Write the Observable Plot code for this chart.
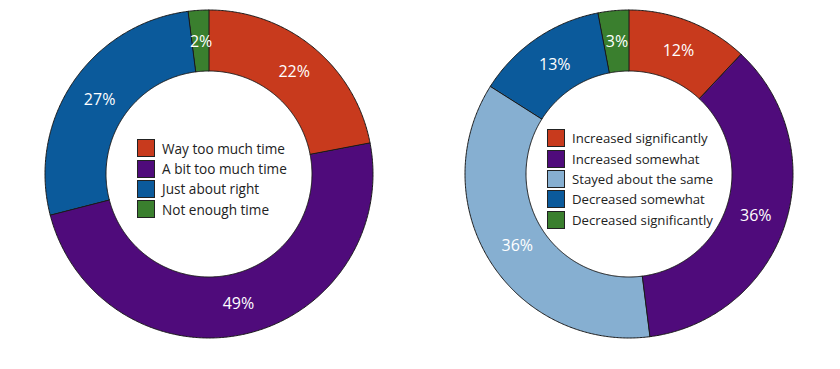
<!DOCTYPE html>
<html>
<head>
<meta charset="utf-8">
<script src="https://cdn.jsdelivr.net/npm/d3@7"></script>
<script src="https://cdn.jsdelivr.net/npm/@observablehq/plot@0.6"></script>
<style>
  body { margin: 0; background: #fff; font-family: "Open Sans", sans-serif; }
  #wrap { position: relative; width: 840px; height: 369px; display: flex; }
  .panel { position: relative; width: 420px; height: 369px; }
  .legend { position: absolute; color: #222; }
  .legend .row { display: flex; align-items: center; height: 20.4px; }
  .legend .sw { width: 16px; height: 16px; border: 1px solid #222; margin-right: 7px; box-sizing: content-box; flex: none; }
</style>
</head>
<body>
<div id="wrap"></div>
<script>
const leftCategories = ["Way too much time", "A bit too much time", "Just about right", "Not enough time"];
const leftValues = [22, 49, 27, 2];
const leftColors = ["#c83a1d", "#4f0b7b", "#0b5a9b", "#3a7f2e"];

const rightCategories = ["Increased significantly", "Increased somewhat", "Stayed about the same", "Decreased somewhat", "Decreased significantly"];
const rightValues = [12, 36, 36, 13, 3];
const rightColors = ["#c83a1d", "#4f0b7b", "#86afd1", "#0b5a9b", "#3a7f2e"];

const INNER = 0.628;
const LABEL_R = 0.81;

function donutRows(cats, vals) {
  const total = d3.sum(vals);
  const rows = [];
  const labels = [];
  let cum = 0;
  cats.forEach((c, i) => {
    const a0 = cum / total * 2 * Math.PI;
    cum += vals[i];
    const a1 = cum / total * 2 * Math.PI;
    const n = Math.max(2, Math.ceil((a1 - a0) / (Math.PI / 360)));
    for (let k = 0; k <= n; k++) {
      const t = a0 + (a1 - a0) * k / n;
      rows.push({cat: c, x1: Math.sin(t), y1: Math.cos(t), x2: INNER * Math.sin(t), y2: INNER * Math.cos(t)});
    }
    const m = (a0 + a1) / 2;
    labels.push({cat: c, x: LABEL_R * Math.sin(m), y: LABEL_R * Math.cos(m), text: vals[i] + "%"});
  });
  return {rows, labels};
}

function makePanel(cats, vals, colors, legendPos, legendFont) {
  const {rows, labels} = donutRows(cats, vals);
  const chart = Plot.plot({
    width: 420,
    height: 369,
    margin: 0,
    x: {domain: [-1, 1], range: [45, 373], axis: null},
    y: {domain: [-1, 1], range: [338, 10], axis: null},
    color: {domain: cats, range: colors},
    style: {fontFamily: "Open Sans, sans-serif", background: "white"},
    marks: [
      Plot.area(rows, {x1: "x1", y1: "y1", x2: "x2", y2: "y2", z: "cat", fill: "cat", stroke: "#1a1a1a", strokeWidth: 1, curve: "linear"}),
      Plot.text(labels, {x: "x", y: "y", text: "text", fill: "white", fontSize: 16})
    ]
  });
  const panel = document.createElement("div");
  panel.className = "panel";
  panel.appendChild(chart);
  const legend = document.createElement("div");
  legend.className = "legend";
  legend.style.left = legendPos[0] + "px";
  legend.style.top = legendPos[1] + "px";
  legend.style.fontSize = legendFont + "px";
  cats.forEach((c, i) => {
    const row = document.createElement("div");
    row.className = "row";
    const sw = document.createElement("div");
    sw.className = "sw";
    sw.style.background = colors[i];
    const lab = document.createElement("span");
    lab.textContent = c;
    row.appendChild(sw);
    row.appendChild(lab);
    legend.appendChild(row);
  });
  panel.appendChild(legend);
  return panel;
}

const wrap = document.getElementById("wrap");
wrap.appendChild(makePanel(leftCategories, leftValues, leftColors, [137, 138], 13.6));
wrap.appendChild(makePanel(rightCategories, rightValues, rightColors, [127, 128], 13.2));
</script>
</body>
</html>
